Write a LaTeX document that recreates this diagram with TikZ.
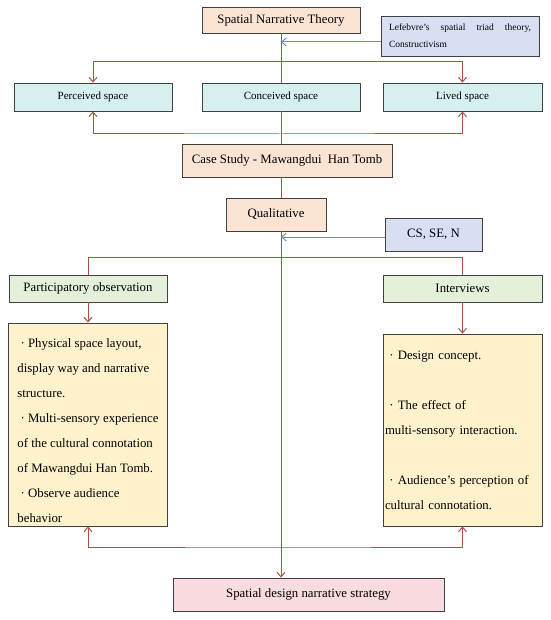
\documentclass[tikz,border=0pt]{standalone}
\usepackage{fontspec}
\setmainfont{Liberation Serif}
\usetikzlibrary{arrows.meta}
\definecolor{peach}{RGB}{251,228,212}
\definecolor{lavender}{RGB}{216,223,243}
\definecolor{aqua}{RGB}{214,239,239}
\definecolor{sage}{RGB}{228,240,218}
\definecolor{cream}{RGB}{254,242,204}
\definecolor{blush}{RGB}{249,219,224}
\definecolor{linkred}{RGB}{170,82,66}
\definecolor{linkblue}{RGB}{128,128,212}

\begin{document}
\begin{tikzpicture}[x=1pt,y=-1pt,
	>={Straight Barb[length=4.5pt,width=8pt]},
	box/.style={draw=black!75,line width=0.9pt,inner sep=0pt,font=\fontsize{12.8}{15}\selectfont},
	small/.style={font=\fontsize{11}{13}\selectfont},
	notes/.style={align=left,font=\fontsize{12.8}{25}\selectfont},
	link/.style={draw=linkred,line width=1pt},
	blink/.style={draw=linkblue,line width=1pt}]
	%%%%% START %%%%%
	\useasboundingbox (0,0) rectangle (550,620);
	
	\coordinate (c1) at (281,62);
	\coordinate (c2) at (281,134);
	\coordinate (c3) at (281,42);
	\coordinate (c4) at (281,257);
	\coordinate (c5) at (281,547);
	\coordinate (c6) at (281,237);
	
	\node[box,fill=peach,minimum width=158,minimum height=26] (snt) at (281,20) {Spatial Narrative Theory};
	\node[box,fill=lavender,minimum width=158,minimum height=40,text width=142,align=left,font=\fontsize{9.5}{17}\selectfont] (lef) at (460,36) {Lefebvre's\hfill spatial\hfill triad\hfill theory,\\Constructivism};
	
	\node[box,small,fill=aqua,minimum width=158,minimum height=28] (perc) at (93,97) {Perceived space};
	\node[box,small,fill=aqua,minimum width=158,minimum height=28] (conc) at (281,97) {Conceived space};
	\node[box,small,fill=aqua,minimum width=159,minimum height=28] (lived) at (462.5,97) {Lived space};
	
	\node[box,fill=peach,minimum width=210,minimum height=33] (case) at (287,160.5) {Case Study - Mawangdui\ \ Han Tomb};
	\node[box,fill=peach,minimum width=100,minimum height=33] (qual) at (276,214.5) {Qualitative};
	\node[box,fill=lavender,minimum width=97,minimum height=33] (cs) at (433.5,234.5) {CS, SE, N};
	
	\node[box,fill=sage,minimum width=158,minimum height=27] (part) at (88,288.5) {Participatory observation};
	\node[box,fill=sage,minimum width=159,minimum height=27] (intv) at (462.5,288.5) {Interviews};
	
	\node[box,notes,fill=cream,minimum width=159,minimum height=203] (ltxt) at (88,424.5) {\rule{0pt}{21pt}~·~Physical space layout,\\display way and narrative\\structure.\\~·~Multi-sensory experience\\of the cultural connotation\\of Mawangdui Han Tomb.\\~·~Observe audience\\behavior};
	\node[box,notes,fill=cream,minimum width=159,minimum height=192,text width=155] (rtxt) at (462.5,430) {~·~Design concept.\\[25pt]~·~The effect of\\multi-sensory interaction.\\[25pt]~·~Audience's perception of\\cultural connotation.};
	
	\node[box,fill=blush,minimum width=271,minimum height=33] (sds) at (308.5,594.5) {Spatial design narrative strategy};
	
	% spine
	\draw[link] (snt.south -| c1) -- (conc.north -| c1);
	\draw[link] (conc.south -| c1) -- (case.north -| c1);
	\draw[link] (case.south -| c1) -- (qual.north -| c1);
	\draw[link,->] (qual.south -| c1) -- (sds.north -| c1);
	
	% three spaces
	\draw[link,->] (c1) -| (perc);
	\draw[link,->] (c1) -| (lived);
	\draw[link,<->] (perc) |- (c2) -| (lived);
	\draw[blink,->] (lef.west |- c3) -- (c3);
	
	% methods
	\draw[blink,->] (cs.west |- c6) -- (c6);
	\draw[link] (c4) -| (part);
	\draw[link] (c4) -| (intv);
	\draw[link,->] (part) -- (ltxt);
	\draw[link,->] (intv) -- (rtxt);
	\draw[link,<->] (ltxt) |- (c5) -| (rtxt);
	
	%%%%% END %%%%%
\end{tikzpicture}
\end{document}
